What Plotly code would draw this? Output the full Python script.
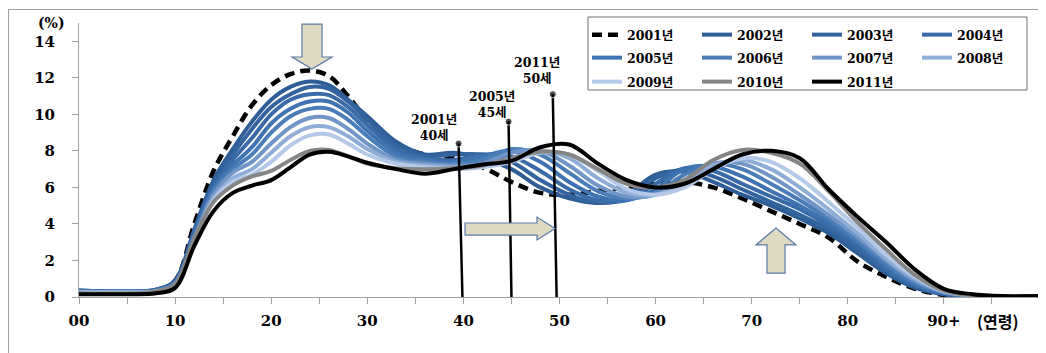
import plotly.graph_objects as go

AGES = [0, 5, 8, 10, 12, 14, 16, 18, 20, 22, 24, 26, 28, 30, 33, 36, 39, 42, 45, 48, 51, 54, 57,
        60, 63, 66, 69, 72, 75, 78, 81, 84, 87, 90, 93, 96, 100]

y2001 = [0.3, 0.25, 0.35, 0.9, 4.0, 6.9, 8.8, 10.5, 11.6, 12.2, 12.4, 12.1, 11.0, 9.7, 8.4, 7.8, 7.6, 7.1, 6.3, 5.7, 5.6, 5.8, 6.0,
         6.2, 6.3, 6.0, 5.4, 4.7, 4.0, 3.25, 1.95, 1.1, 0.45, 0.12, 0.03, 0.0, 0.0]
y2002 = [0.35, 0.3, 0.4, 0.9, 3.7, 6.4, 8.1, 9.6, 10.8, 11.5, 11.8, 11.6, 10.8, 9.9, 8.5, 7.8, 7.9, 7.6, 7.0, 6.0, 5.4, 5.15, 5.6,
         6.7, 6.85, 6.3, 5.6, 5.0, 4.3, 3.5, 2.4, 1.3, 0.5, 0.15, 0.05, 0.0, 0.0]
y2003 = [0.35, 0.3, 0.4, 0.85, 3.6, 6.2, 7.8, 9.2, 10.4, 11.1, 11.5, 11.4, 10.7, 9.7, 8.3, 7.7, 7.8, 7.8, 7.4, 6.4, 5.6, 5.15, 5.4,
         6.5, 7.0, 6.6, 5.9, 5.2, 4.5, 3.7, 2.6, 1.4, 0.6, 0.18, 0.05, 0.0, 0.0]
y2004 = [0.3, 0.3, 0.35, 0.8, 3.5, 6.0, 7.5, 8.7, 10.0, 10.8, 11.1, 11.05, 10.4, 9.4, 8.1, 7.6, 7.5, 7.8, 7.7, 6.9, 5.9, 5.3, 5.3,
         6.2, 7.05, 6.9, 6.2, 5.5, 4.8, 3.9, 2.8, 1.5, 0.65, 0.2, 0.05, 0.0, 0.0]
y2005 = [0.3, 0.3, 0.35, 0.8, 3.4, 5.9, 7.2, 8.2, 9.5, 10.3, 10.7, 10.7, 10.1, 9.1, 7.9, 7.5, 7.4, 7.7, 8.0, 7.4, 6.3, 5.5, 5.3,
         5.9, 7.0, 7.15, 6.6, 5.8, 5.0, 4.1, 3.0, 1.7, 0.7, 0.22, 0.06, 0.0, 0.0]
y2006 = [0.3, 0.3, 0.35, 0.75, 3.3, 5.8, 7.0, 7.8, 9.0, 9.9, 10.3, 10.3, 9.7, 8.8, 7.7, 7.4, 7.3, 7.5, 8.1, 7.8, 6.8, 5.8, 5.4,
         5.7, 6.7, 7.3, 7.0, 6.2, 5.3, 4.3, 3.1, 1.8, 0.8, 0.25, 0.07, 0.0, 0.0]
y2007 = [0.25, 0.25, 0.3, 0.7, 3.2, 5.6, 6.8, 7.4, 8.4, 9.3, 9.8, 9.8, 9.2, 8.4, 7.5, 7.3, 7.2, 7.3, 7.9, 8.0, 7.2, 6.1, 5.5,
         5.6, 6.4, 7.3, 7.3, 6.6, 5.6, 4.5, 3.3, 2.0, 0.9, 0.28, 0.08, 0.01, 0.0]
y2008 = [0.25, 0.25, 0.3, 0.7, 3.1, 5.4, 6.5, 7.0, 7.9, 8.8, 9.3, 9.3, 8.8, 8.1, 7.4, 7.2, 7.1, 7.2, 7.6, 8.0, 7.6, 6.5, 5.7,
         5.6, 6.2, 7.2, 7.5, 7.0, 6.0, 4.8, 3.5, 2.1, 1.0, 0.3, 0.09, 0.02, 0.0]
y2009 = [0.25, 0.25, 0.3, 0.65, 3.0, 5.3, 6.3, 6.7, 7.4, 8.3, 8.85, 8.9, 8.4, 7.8, 7.3, 7.1, 7.0, 7.1, 7.4, 7.9, 7.8, 6.9, 5.9,
         5.6, 6.0, 7.0, 7.6, 7.4, 6.5, 5.2, 3.8, 2.3, 1.1, 0.32, 0.1, 0.02, 0.0]
y2010 = [0.2, 0.2, 0.3, 0.7, 3.2, 5.2, 6.1, 6.6, 6.9, 7.5, 8.0, 8.05, 7.7, 7.3, 7.05, 7.0, 7.05, 7.2, 7.6, 7.95, 7.8, 7.0, 6.2,
         6.0, 6.4, 7.5, 8.05, 7.9, 7.3, 5.8, 4.1, 2.6, 1.2, 0.35, 0.1, 0.03, 0.02]
y2011 = [0.15, 0.15, 0.2, 0.5, 2.8, 4.7, 5.7, 6.1, 6.4, 7.1, 7.8, 7.95, 7.7, 7.35, 7.0, 6.75, 7.0, 7.25, 7.45, 8.2, 8.35, 7.3, 6.4,
         6.0, 6.2, 7.0, 7.8, 8.0, 7.6, 5.9, 4.4, 3.0, 1.5, 0.45, 0.15, 0.05, 0.05]

SERIES_NAMES = ["2001년", "2002년", "2003년", "2004년", "2005년", "2006년",
                "2007년", "2008년", "2009년", "2010년", "2011년"]

MARK_X_BOTTOM = [39.9, 45.0, 49.7]
MARK_X_TOP = [39.5, 44.7, 49.3]
MARK_TOP = [8.4, 9.6, 11.1]
MARK_LABELS = ["2001년<br>40세", "2005년<br>45세", "2011년<br>50세"]

X_TICKS = [0, 5, 10, 15, 20, 25, 30, 35, 40, 45, 50, 55, 60, 65, 70, 75, 80, 85, 90, 95, 100]
X_TICKTEXT = ["00", "", "10", "", "20", "", "30", "", "40", "", "50", "", "60", "", "70", "",
              "80", "", "90+", "", ""]
Y_TICKS = [0, 2, 4, 6, 8, 10, 12, 14]

series_values = [y2001, y2002, y2003, y2004, y2005, y2006, y2007, y2008, y2009, y2010, y2011]
colors = ["#000000", "#2f5e97", "#34649f", "#3a6ba8", "#4073b1", "#4b7db9",
          "#7095c6", "#8fadd6", "#b4c9e7", "#858585", "#000000"]
legends = ["legend"] * 4 + ["legend2"] * 4 + ["legend3"] * 3

# the page body has an 8px margin; the figure is sized/offset so the plot lands at the reference pixels
OFF = 8
W, H = 1046 - OFF, 353 - OFF
L, R, T, B = 79 - OFF, 6, 23 - OFF, 56
PW, PH = W - L - R, H - T - B

def px_x(p):
    return (p - OFF - L) / PW

def px_y(p):
    return (H + OFF - B - p) / PH

SERIF = "DejaVu Serif, Liberation Serif, Noto Sans CJK KR"

fig = go.Figure()
for i, (name, vals) in enumerate(zip(SERIES_NAMES, series_values)):
    line = dict(color=colors[i], width=4, shape="spline", smoothing=1.0)
    if i == 0:
        line.update(dash="10px,6px", width=4.5)
    fig.add_trace(go.Scatter(x=AGES, y=vals, mode="lines", name=name, line=line,
                             legend=legends[i], hoverinfo="skip"))

for xb, xt, top in zip(MARK_X_BOTTOM, MARK_X_TOP, MARK_TOP):
    fig.add_trace(go.Scatter(x=[xb, xt], y=[0, top], mode="lines+markers",
                             line=dict(color="black", width=2.5),
                             marker=dict(size=[0, 7], color="black"),
                             showlegend=False, hoverinfo="skip"))

label_pos = [(36.9, 9.3), (43.0, 10.55), (47.7, 12.4)]
for (lx, ly), txt in zip(label_pos, MARK_LABELS):
    fig.add_annotation(x=lx, y=ly, text=txt, showarrow=False, xref="x", yref="y",
                       xanchor="center", yanchor="middle",
                       font=dict(family=SERIF, size=12.5, color="black", weight="bold"),
                       align="center")

arrow_fill = "#ddd9c3"
arrow_line = dict(color="#5a7aa8", width=1.2)
fig.add_shape(type="path", xref="x", yref="y", fillcolor=arrow_fill, line=arrow_line,
              path="M23.2,14.94 L25.29,14.94 L25.29,13.14 L26.33,13.14 L24.25,12.48 L22.16,13.14 L23.2,13.14 Z")
fig.add_shape(type="path", xref="x", yref="y", fillcolor=arrow_fill, line=arrow_line,
              path="M40.17,4.05 L47.66,4.05 L47.66,4.38 L49.53,3.75 L47.66,3.12 L47.66,3.39 L40.17,3.39 Z")
fig.add_shape(type="path", xref="x", yref="y", fillcolor=arrow_fill, line=arrow_line,
              path="M71.59,1.31 L73.47,1.31 L73.47,2.85 L74.61,2.85 L72.53,3.78 L70.45,2.85 L71.59,2.85 Z")

# legend frame and outer frame
fig.add_shape(type="rect", xref="paper", yref="paper", x0=px_x(588), x1=px_x(1027),
              y0=px_y(90), y1=px_y(17), line=dict(color="#707070", width=1), fillcolor="rgba(0,0,0,0)")
fig.add_shape(type="rect", xref="paper", yref="paper", x0=px_x(8.5), x1=px_x(1043),
              y0=px_y(365), y1=px_y(9.5), line=dict(color="#a0a0a0", width=1), fillcolor="rgba(0,0,0,0)")

fig.add_annotation(x=px_x(51), y=px_y(23), xref="paper", yref="paper", text="(%)", showarrow=False,
                   xanchor="center", yanchor="middle",
                   font=dict(family=SERIF, size=14, color="black", weight="bold"))
fig.add_annotation(x=px_x(998), y=px_y(321), xref="paper", yref="paper", text="(연령)", showarrow=False,
                   xanchor="center", yanchor="middle",
                   font=dict(family="Noto Sans CJK KR", size=16, color="black", weight="bold"))

leg_font = dict(family=SERIF, size=12.5, color="black", weight="bold")
leg_common = dict(orientation="h", entrywidth=65, entrywidthmode="pixels", xanchor="left",
                  yanchor="middle", bgcolor="rgba(0,0,0,0)", font=leg_font, itemwidth=30,
                  x=px_x(587))

fig.update_layout(
    width=W, height=H,
    margin=dict(l=L, r=R, t=T, b=B, autoexpand=False),
    paper_bgcolor="white", plot_bgcolor="white",
    legend=dict(y=px_y(35), **leg_common),
    legend2=dict(y=px_y(58), **leg_common),
    legend3=dict(y=px_y(82), **leg_common),
    xaxis=dict(range=[0, 100], tickvals=X_TICKS, ticktext=X_TICKTEXT, ticks="outside", ticklen=6,
               tickcolor="#a0a0a0", showline=True, linecolor="#a0a0a0", showgrid=False, zeroline=False,
               automargin=False, ticklabelstandoff=4,
               tickfont=dict(family=SERIF, size=15, color="black", weight="bold")),
    yaxis=dict(range=[0, 15.0], tickvals=Y_TICKS, ticks="outside", ticklen=6, tickcolor="#a0a0a0",
               showline=True, linecolor="#a0a0a0", showgrid=False, zeroline=False, ticklabelstandoff=14,
               automargin=False,
               tickfont=dict(family=SERIF, size=15, color="black", weight="bold")),
)

fig.write_html("out.html")
